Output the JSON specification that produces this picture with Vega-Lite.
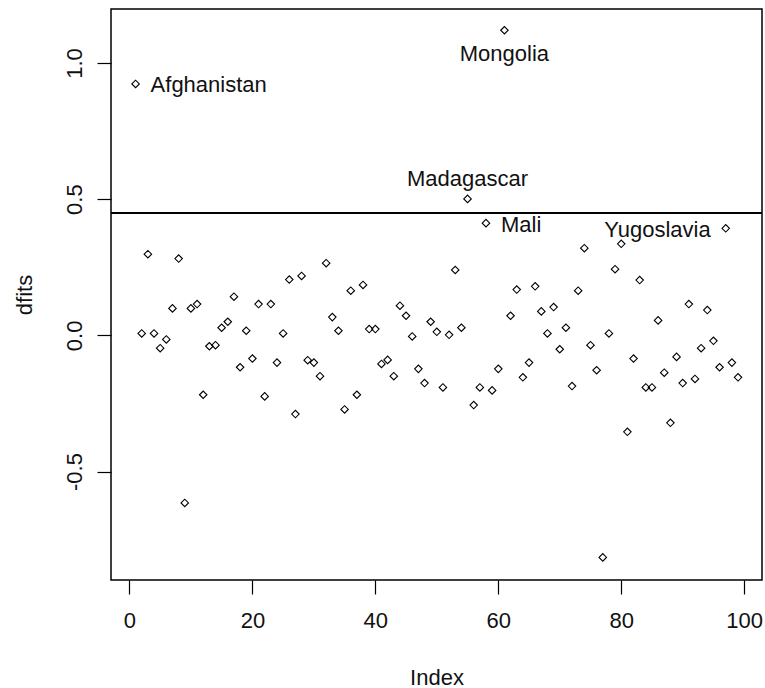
{
  "$schema": "https://vega.github.io/schema/vega-lite/v6.json",
  "width": 651,
  "height": 571,
  "autosize": {"type": "none"},
  "padding": {"left": 111, "top": 9, "right": 3, "bottom": 108},
  "background": "white",
  "config": {
    "view": {"stroke": "black", "strokeWidth": 1.5},
    "font": "Liberation Sans",
    "axis": {
      "grid": false,
      "domain": false,
      "tickSize": 14,
      "tickColor": "black",
      "tickWidth": 1.2,
      "labelFont": "Liberation Sans",
      "labelFontSize": 22,
      "labelColor": "#111",
      "labelOverlap": false,
      "labelFlush": false,
      "titleFont": "Liberation Sans",
      "titleFontSize": 22,
      "titleFontWeight": "normal",
      "titleColor": "#111"
    }
  },
  "data": {
    "values": [
      {"Index": 1, "dfits": 0.923, "country": "Afghanistan"},
      {"Index": 2, "dfits": 0.007},
      {"Index": 3, "dfits": 0.298},
      {"Index": 4, "dfits": 0.007},
      {"Index": 5, "dfits": -0.047},
      {"Index": 6, "dfits": -0.015},
      {"Index": 7, "dfits": 0.099},
      {"Index": 8, "dfits": 0.282},
      {"Index": 9, "dfits": -0.615},
      {"Index": 10, "dfits": 0.099},
      {"Index": 11, "dfits": 0.115},
      {"Index": 12, "dfits": -0.218},
      {"Index": 13, "dfits": -0.04},
      {"Index": 14, "dfits": -0.036},
      {"Index": 15, "dfits": 0.028},
      {"Index": 16, "dfits": 0.05},
      {"Index": 17, "dfits": 0.142},
      {"Index": 18, "dfits": -0.117},
      {"Index": 19, "dfits": 0.017},
      {"Index": 20, "dfits": -0.085},
      {"Index": 21, "dfits": 0.115},
      {"Index": 22, "dfits": -0.224},
      {"Index": 23, "dfits": 0.115},
      {"Index": 24, "dfits": -0.1},
      {"Index": 25, "dfits": 0.007},
      {"Index": 26, "dfits": 0.205},
      {"Index": 27, "dfits": -0.289},
      {"Index": 28, "dfits": 0.218},
      {"Index": 29, "dfits": -0.091},
      {"Index": 30, "dfits": -0.1},
      {"Index": 31, "dfits": -0.15},
      {"Index": 32, "dfits": 0.265},
      {"Index": 33, "dfits": 0.067},
      {"Index": 34, "dfits": 0.017},
      {"Index": 35, "dfits": -0.272},
      {"Index": 36, "dfits": 0.164},
      {"Index": 37, "dfits": -0.218},
      {"Index": 38, "dfits": 0.185},
      {"Index": 39, "dfits": 0.023},
      {"Index": 40, "dfits": 0.023},
      {"Index": 41, "dfits": -0.105},
      {"Index": 42, "dfits": -0.09},
      {"Index": 43, "dfits": -0.15},
      {"Index": 44, "dfits": 0.109},
      {"Index": 45, "dfits": 0.072},
      {"Index": 46, "dfits": -0.004},
      {"Index": 47, "dfits": -0.123},
      {"Index": 48, "dfits": -0.175},
      {"Index": 49, "dfits": 0.05},
      {"Index": 50, "dfits": 0.013},
      {"Index": 51, "dfits": -0.191},
      {"Index": 52, "dfits": 0.002},
      {"Index": 53, "dfits": 0.24},
      {"Index": 54, "dfits": 0.028},
      {"Index": 55, "dfits": 0.501, "country": "Madagascar"},
      {"Index": 56, "dfits": -0.256},
      {"Index": 57, "dfits": -0.191},
      {"Index": 58, "dfits": 0.412, "country": "Mali"},
      {"Index": 59, "dfits": -0.202},
      {"Index": 60, "dfits": -0.123},
      {"Index": 61, "dfits": 1.12, "country": "Mongolia"},
      {"Index": 62, "dfits": 0.072},
      {"Index": 63, "dfits": 0.168},
      {"Index": 64, "dfits": -0.154},
      {"Index": 65, "dfits": -0.1},
      {"Index": 66, "dfits": 0.18},
      {"Index": 67, "dfits": 0.088},
      {"Index": 68, "dfits": 0.007},
      {"Index": 69, "dfits": 0.104},
      {"Index": 70, "dfits": -0.051},
      {"Index": 71, "dfits": 0.028},
      {"Index": 72, "dfits": -0.186},
      {"Index": 73, "dfits": 0.164},
      {"Index": 74, "dfits": 0.32},
      {"Index": 75, "dfits": -0.036},
      {"Index": 76, "dfits": -0.128},
      {"Index": 77, "dfits": -0.815},
      {"Index": 78, "dfits": 0.007},
      {"Index": 79, "dfits": 0.243},
      {"Index": 80, "dfits": 0.336},
      {"Index": 81, "dfits": -0.354},
      {"Index": 82, "dfits": -0.085},
      {"Index": 83, "dfits": 0.203},
      {"Index": 84, "dfits": -0.191},
      {"Index": 85, "dfits": -0.191},
      {"Index": 86, "dfits": 0.055},
      {"Index": 87, "dfits": -0.137},
      {"Index": 88, "dfits": -0.321},
      {"Index": 89, "dfits": -0.079},
      {"Index": 90, "dfits": -0.175},
      {"Index": 91, "dfits": 0.115},
      {"Index": 92, "dfits": -0.16},
      {"Index": 93, "dfits": -0.047},
      {"Index": 94, "dfits": 0.093},
      {"Index": 95, "dfits": -0.02},
      {"Index": 96, "dfits": -0.117},
      {"Index": 97, "dfits": 0.393, "country": "Yugoslavia"},
      {"Index": 98, "dfits": -0.1},
      {"Index": 99, "dfits": -0.154}
    ]
  },
  "encoding": {
    "x": {
      "field": "Index",
      "type": "quantitative",
      "scale": {"domain": [-3.0, 102.9], "nice": false, "zero": false},
      "axis": {
        "title": "Index",
        "values": [0, 20, 40, 60, 80, 100],
        "labelPadding": 16,
        "titleX": 325.5,
        "titleY": 104,
        "titleAlign": "center",
        "titleBaseline": "alphabetic"
      }
    },
    "y": {
      "field": "dfits",
      "type": "quantitative",
      "scale": {"domain": [-0.898, 1.198], "nice": false, "zero": false},
      "axis": {
        "title": "dfits",
        "values": [-0.5, 0, 0.5, 1],
        "labelExpr": "datum.value < 0 ? '-' + format(-datum.value, '.1f') : format(datum.value, '.1f')",
        "labelAngle": -90,
        "labelAlign": "center",
        "labelBaseline": "bottom",
        "labelPadding": 11,
        "titleAngle": -90,
        "titleX": -80,
        "titleY": 285.5,
        "titleAlign": "center",
        "titleBaseline": "alphabetic"
      }
    }
  },
  "layer": [
    {
      "mark": {"type": "rule", "color": "black", "strokeWidth": 1.3},
      "encoding": {"x": null, "y": {"datum": 0.45}}
    },
    {
      "mark": {
        "type": "point",
        "shape": "diamond",
        "filled": false,
        "color": "black",
        "opacity": 1,
        "size": 56,
        "strokeWidth": 1.1
      }
    },
    {
      "transform": [{"filter": "datum.country === 'Afghanistan' || datum.country === 'Mali'"}],
      "mark": {"type": "text", "align": "left", "baseline": "alphabetic", "dx": 15, "dy": 8.5, "fontSize": 22, "color": "#111"},
      "encoding": {"text": {"field": "country"}}
    },
    {
      "transform": [{"filter": "datum.country === 'Yugoslavia'"}],
      "mark": {"type": "text", "align": "right", "baseline": "alphabetic", "dx": -15, "dy": 8.5, "fontSize": 22, "color": "#111"},
      "encoding": {"text": {"field": "country"}}
    },
    {
      "transform": [{"filter": "datum.country === 'Mongolia'"}],
      "mark": {"type": "text", "align": "center", "baseline": "alphabetic", "dy": 31, "fontSize": 22, "color": "#111"},
      "encoding": {"text": {"field": "country"}}
    },
    {
      "transform": [{"filter": "datum.country === 'Madagascar'"}],
      "mark": {"type": "text", "align": "center", "baseline": "alphabetic", "dy": -12.5, "fontSize": 22, "color": "#111"},
      "encoding": {"text": {"field": "country"}}
    }
  ]
}
